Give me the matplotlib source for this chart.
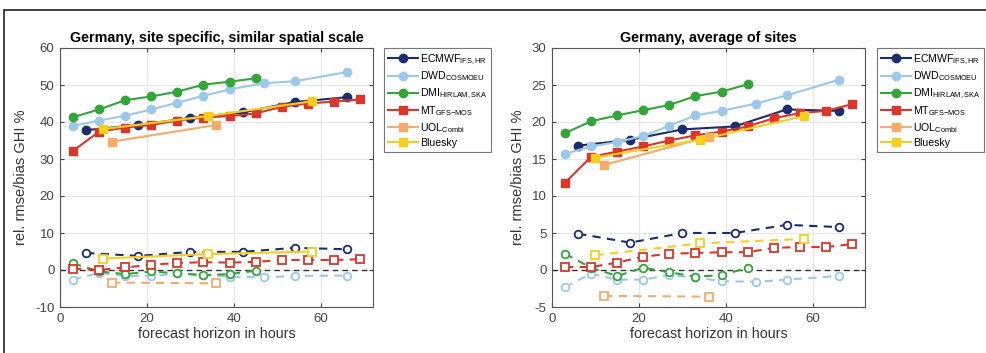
import numpy as np
import matplotlib
matplotlib.use("Agg")
import matplotlib.pyplot as plt
from matplotlib.patches import Rectangle

plt.rcParams['font.family'] = ['Liberation Sans', 'DejaVu Sans']
plt.rcParams['mathtext.fontset'] = 'custom'
plt.rcParams['mathtext.rm'] = 'Liberation Sans'
plt.rcParams['mathtext.default'] = 'regular'
plt.rcParams['axes.unicode_minus'] = False

# forecast horizons (hours)
x_ecmwf = [6, 18, 30, 42, 54, 66]
x_dwd = [3, 9, 15, 21, 27, 33, 39, 47, 54, 66]
x_dmi = [3, 9, 15, 21, 27, 33, 39, 45]
x_mt = [3, 9, 15, 21, 27, 33, 39, 45, 51, 57, 63, 69]
x_uol = [12, 36]
x_blue = [10, 34, 58]

# left panel: site specific
rmse_l_ecmwf = [37.8, 39.2, 41.1, 42.6, 45.4, 46.7]
rmse_l_dwd = [38.9, 40.4, 41.7, 43.4, 45.2, 47.1, 48.8, 50.5, 51.0, 53.5]
rmse_l_dmi = [41.3, 43.4, 45.9, 46.9, 48.2, 50.1, 50.9, 51.8]
rmse_l_mt = [32.2, 37.4, 38.5, 39.2, 40.4, 41.2, 41.6, 42.3, 44.1, 45.0, 45.5, 46.1]
rmse_l_uol = [34.7, 39.2]
rmse_l_blue = [38.1, 41.6, 45.6]
bias_l_ecmwf = [4.6, 3.8, 4.9, 4.9, 6.0, 5.6]
bias_l_dwd = [-2.6, -0.8, -1.6, -1.7, -0.9, -1.3, -1.8, -2.0, -1.6, -1.5]
bias_l_dmi = [1.8, -0.4, -1.1, -0.4, -0.9, -1.4, -1.1, -0.2]
bias_l_mt = [0.4, 0.0, 0.7, 1.4, 1.9, 2.1, 2.0, 2.2, 2.7, 2.7, 2.7, 2.9]
bias_l_uol = [-3.4, -3.6]
bias_l_blue = [3.1, 4.3, 5.0]

# right panel: average of sites
rmse_r_ecmwf = [16.8, 17.6, 19.0, 19.4, 21.7, 21.5]
rmse_r_dwd = [15.7, 16.7, 17.3, 18.1, 19.5, 20.9, 21.5, 22.5, 23.6, 25.7]
rmse_r_dmi = [18.5, 20.1, 20.9, 21.6, 22.3, 23.5, 24.1, 25.1]
rmse_r_mt = [11.8, 15.3, 16.0, 16.7, 17.5, 18.2, 18.7, 19.4, 20.5, 21.2, 21.5, 22.4]
rmse_r_uol = [14.2, 18.0]
rmse_r_blue = [15.2, 17.6, 20.8]
bias_r_ecmwf = [4.9, 3.7, 5.0, 5.0, 6.1, 5.8]
bias_r_dwd = [-2.3, -0.5, -1.3, -1.3, -0.7, -1.0, -1.5, -1.6, -1.3, -0.8]
bias_r_dmi = [2.2, 0.3, -0.8, 0.3, -0.3, -0.9, -0.7, 0.3]
bias_r_mt = [0.4, 0.4, 1.0, 1.8, 2.2, 2.3, 2.4, 2.4, 3.0, 3.1, 3.1, 3.5]
bias_r_uol = [-3.5, -3.6]
bias_r_blue = [2.0, 3.6, 4.2]

labels = ['ECMWF$_{IFS,HR}$', 'DWD$_{COSMOEU}$', 'DMI$_{HIRLAM,SKA}$',
          'MT$_{GFS{-}MOS}$', 'UOL$_{Combi}$', 'Bluesky']
colors = ['#1c2d6e', '#9cc8ea', '#33a63a', '#d9372a', '#f9a968', '#f6ce1e']
markers = ['o', 'o', 'o', 's', 's', 's']

xs = [x_ecmwf, x_dwd, x_dmi, x_mt, x_uol, x_blue]
left_rmse = [rmse_l_ecmwf, rmse_l_dwd, rmse_l_dmi, rmse_l_mt, rmse_l_uol, rmse_l_blue]
left_bias = [bias_l_ecmwf, bias_l_dwd, bias_l_dmi, bias_l_mt, bias_l_uol, bias_l_blue]
right_rmse = [rmse_r_ecmwf, rmse_r_dwd, rmse_r_dmi, rmse_r_mt, rmse_r_uol, rmse_r_blue]
right_bias = [bias_r_ecmwf, bias_r_dwd, bias_r_dmi, bias_r_mt, bias_r_uol, bias_r_blue]

W, H = 986, 353
fig = plt.figure(figsize=(W / 100, H / 100), dpi=100)

# outer frame of the original figure
fig.patches.append(Rectangle((4 / W, -0.1), 1.2, 1 - 10 / H + 0.1, transform=fig.transFigure,
                             fill=False, edgecolor='#222222', linewidth=1.2))

panels = [
    (60, 'Germany, site specific, similar spatial scale', left_rmse, left_bias,
     (-10, 60), np.arange(-10, 61, 10), 384, '-'),
    (552, 'Germany, average of sites', right_rmse, right_bias,
     (-5, 30), np.arange(-5, 31, 5), 877, '--'),
]

for left_px, title, rmse, bias, ylim, yticks, leg_px, blue_bias_ls in panels:
    ax = fig.add_axes([left_px / W, (H - 307) / H, 313 / W, 259 / H])
    ax.axhline(0, color='#333333', linestyle='--', linewidth=1, dashes=(4, 3), zorder=1)
    for i in range(6):
        ax.plot(xs[i], rmse[i], color=colors[i], marker=markers[i], markersize=6,
                linewidth=1.5, label=labels[i], zorder=3)
        ls = blue_bias_ls if i == 5 else '--'
        if ls == '--':
            ax.plot(xs[i], bias[i], color=colors[i], marker=markers[i], markersize=5.5,
                    markerfacecolor='white', markeredgewidth=1.3, linestyle='--',
                    dashes=(4, 3), linewidth=1.5, zorder=3)
        else:
            ax.plot(xs[i], bias[i], color=colors[i], marker=markers[i], markersize=5.5,
                    markerfacecolor='white', markeredgewidth=1.3, linestyle='-',
                    linewidth=1.5, zorder=3)
    ax.set_xlim(0, 72)
    ax.set_ylim(*ylim)
    ax.set_xticks([0, 20, 40, 60])
    ax.set_yticks(yticks)
    ax.grid(True, color='#e6e6e6', linewidth=0.8)
    ax.set_axisbelow(True)
    for s in ax.spines.values():
        s.set_color('#555555')
        s.set_linewidth(0.8)
    ax.tick_params(labelsize=9.5, colors='#444444', direction='in', length=3,
                   top=True, right=True, pad=4)
    ax.set_title(title, fontsize=10.3, fontweight='bold', pad=4)
    ax.set_xlabel('forecast horizon in hours', fontsize=10.3, color='#333333', labelpad=2)
    ax.set_ylabel('rel. rmse/bias GHI %', fontsize=10.5, color='#333333', labelpad=5)
    leg = ax.legend(loc='upper left', bbox_to_anchor=(leg_px / W, 1 - 48 / H),
                    bbox_transform=fig.transFigure, borderaxespad=0, fontsize=7.6,
                    fancybox=False, edgecolor='#555555', handlelength=2.8,
                    handletextpad=0.2, labelspacing=0.3, borderpad=0.4)
    leg.get_frame().set_linewidth(0.8)

fig.savefig('out.png', dpi=100)
